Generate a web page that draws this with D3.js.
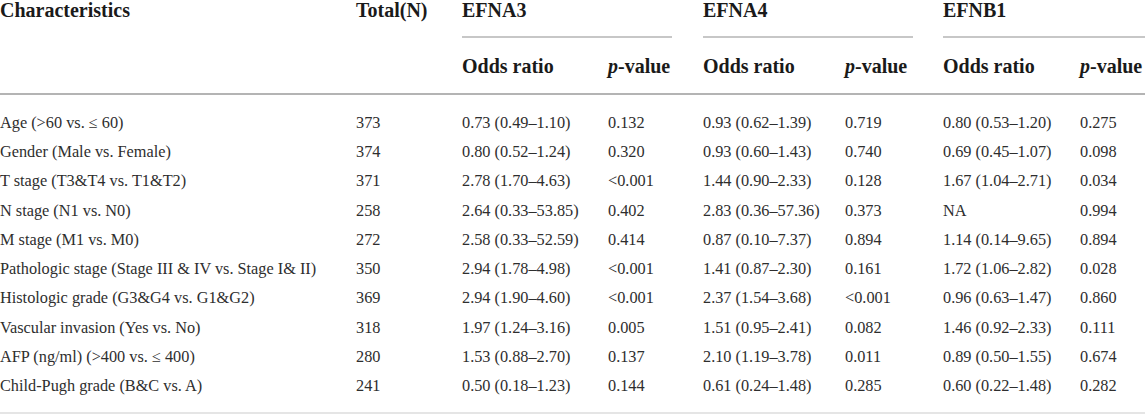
<!DOCTYPE html>
<html>
<head>
<meta charset="utf-8">
<script src="https://cdn.jsdelivr.net/npm/d3@7"></script>
<style>
  body { margin: 0; background: #fff; }
  svg text { font-family: "Liberation Serif", "DejaVu Serif", serif; }
  .head { font-weight: bold; font-size: 20px; fill: #1a1a1a; }
  .cell { font-size: 16.3px; fill: #2e2e2e; }
</style>
</head>
<body>
<script>
// ----- table data -----
const characteristics = [
  "Age (>60 vs. \u2264 60)",
  "Gender (Male vs. Female)",
  "T stage (T3&T4 vs. T1&T2)",
  "N stage (N1 vs. N0)",
  "M stage (M1 vs. M0)",
  "Pathologic stage (Stage III & IV vs. Stage I& II)",
  "Histologic grade (G3&G4 vs. G1&G2)",
  "Vascular invasion (Yes vs. No)",
  "AFP (ng/ml) (>400 vs. \u2264 400)",
  "Child-Pugh grade (B&C vs. A)"
];
const totals = [373, 374, 371, 258, 272, 350, 369, 318, 280, 241];

const genes = ["EFNA3", "EFNA4", "EFNB1"];

const efna3Or = ["0.73 (0.49\u20131.10)", "0.80 (0.52\u20131.24)", "2.78 (1.70\u20134.63)", "2.64 (0.33\u201353.85)", "2.58 (0.33\u201352.59)",
                 "2.94 (1.78\u20134.98)", "2.94 (1.90\u20134.60)", "1.97 (1.24\u20133.16)", "1.53 (0.88\u20132.70)", "0.50 (0.18\u20131.23)"];
const efna3P  = ["0.132", "0.320", "<0.001", "0.402", "0.414", "<0.001", "<0.001", "0.005", "0.137", "0.144"];

const efna4Or = ["0.93 (0.62\u20131.39)", "0.93 (0.60\u20131.43)", "1.44 (0.90\u20132.33)", "2.83 (0.36\u201357.36)", "0.87 (0.10\u20137.37)",
                 "1.41 (0.87\u20132.30)", "2.37 (1.54\u20133.68)", "1.51 (0.95\u20132.41)", "2.10 (1.19\u20133.78)", "0.61 (0.24\u20131.48)"];
const efna4P  = ["0.719", "0.740", "0.128", "0.373", "0.894", "0.161", "<0.001", "0.082", "0.011", "0.285"];

const efnb1Or = ["0.80 (0.53\u20131.20)", "0.69 (0.45\u20131.07)", "1.67 (1.04\u20132.71)", "NA", "1.14 (0.14\u20139.65)",
                 "1.72 (1.06\u20132.82)", "0.96 (0.63\u20131.47)", "1.46 (0.92\u20132.33)", "0.89 (0.50\u20131.55)", "0.60 (0.22\u20131.48)"];
const efnb1P  = ["0.275", "0.098", "0.034", "0.994", "0.894", "0.028", "0.860", "0.111", "0.674", "0.282"];

const columnKeys = ["char", "total", "a3or", "a3p", "a4or", "a4p", "b1or", "b1p"];

// ----- layout -----
const width = 1145, height = 414;

// column left edges
const xCol = d3.scaleOrdinal()
  .domain(columnKeys)
  .range([0, 356, 462, 608, 703, 845, 943, 1080]);

// gene group spans (underline rule)
const groupEnd = { EFNA3: 672, EFNA4: 913, EFNB1: 1145 };
const groupStart = { EFNA3: "a3or", EFNA4: "a4or", EFNB1: "b1or" };

// row baselines
const yRow = d3.scalePoint()
  .domain(characteristics)
  .range([128, 391]);

const svg = d3.select("body")
  .append("svg")
  .attr("width", width)
  .attr("height", height);

// ----- header -----
svg.append("text").attr("class", "head")
  .attr("x", xCol("char")).attr("y", 17).text("Characteristics");
svg.append("text").attr("class", "head")
  .attr("x", xCol("total")).attr("y", 17).text("Total(N)");

genes.forEach(g => {
  svg.append("text").attr("class", "head")
    .attr("x", xCol(groupStart[g])).attr("y", 17).text(g);
  svg.append("line")
    .attr("x1", xCol(groupStart[g])).attr("x2", groupEnd[g])
    .attr("y1", 37).attr("y2", 37)
    .attr("stroke", "#b4b4b4").attr("stroke-width", 1.6);
});

// sub headers
["a3or", "a4or", "b1or"].forEach(k => {
  svg.append("text").attr("class", "head")
    .attr("x", xCol(k)).attr("y", 73).text("Odds ratio");
});
["a3p", "a4p", "b1p"].forEach(k => {
  const t = svg.append("text").attr("class", "head")
    .attr("x", xCol(k)).attr("y", 73);
  t.append("tspan").style("font-style", "italic").text("p");
  t.append("tspan").text("-value");
});

// header rule
svg.append("line")
  .attr("x1", 0).attr("x2", width)
  .attr("y1", 94).attr("y2", 94)
  .attr("stroke", "#b4b4b4").attr("stroke-width", 2);

// ----- body rows -----
const rows = characteristics.map((c, i) => ({
  char: c, total: totals[i],
  a3or: efna3Or[i], a3p: efna3P[i],
  a4or: efna4Or[i], a4p: efna4P[i],
  b1or: efnb1Or[i], b1p: efnb1P[i]
}));

const rowG = svg.selectAll(".row")
  .data(rows)
  .enter()
  .append("g")
  .attr("class", "row")
  .attr("transform", d => "translate(0," + yRow(d.char) + ")");

rowG.selectAll("text")
  .data(d => columnKeys.map(k => ({ key: k, value: d[k] })))
  .enter()
  .append("text")
  .attr("class", "cell")
  .attr("x", d => xCol(d.key))
  .text(d => d.value);

// bottom rule
svg.append("line")
  .attr("x1", 0).attr("x2", width)
  .attr("y1", 413).attr("y2", 413)
  .attr("stroke", "#dcdcdc").attr("stroke-width", 1.5);
</script>
</body>
</html>
